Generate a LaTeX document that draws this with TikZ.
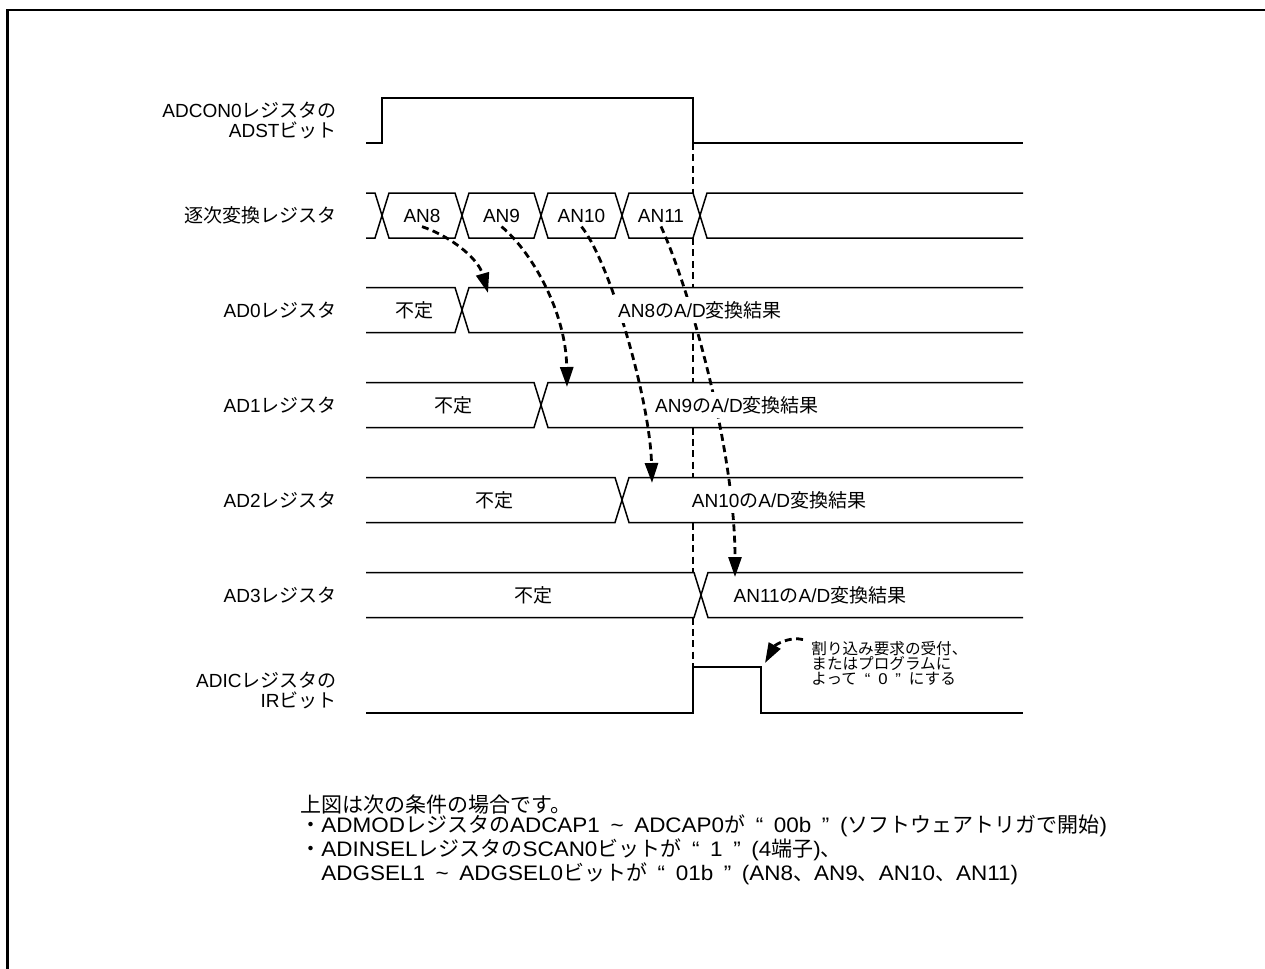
\documentclass[tikz,border=0pt]{standalone}
\usepackage{fontspec}
\setmainfont{Liberation Sans}
\newfontfamily\jpfont{Noto Sans CJK JP}
\newfontfamily\condfont{Liberation Sans}[FakeStretch=1.07, WordSpace=1.7]
\newcommand{\jp}[1]{{\jpfont #1}}
\usetikzlibrary{arrows.meta}

% one data cell of a bus row: left edge, right edge, middle line
\newcommand{\buscell}[3]{\draw[wave] (#1,#3) -- (#1+7,#3-22.5) -- (#2-7,#3-22.5) -- (#2,#3) -- (#2-7,#3+22.5) -- (#1+7,#3+22.5) -- cycle;}
\newcommand{\busopenl}[2]{\draw[wave] (366,#2-22.5) -- (#1-7,#2-22.5) -- (#1,#2) -- (#1-7,#2+22.5) -- (366,#2+22.5);}
\newcommand{\busopenr}[2]{\draw[wave] (1023,#2-22.5) -- (#1+7,#2-22.5) -- (#1,#2) -- (#1+7,#2+22.5) -- (1023,#2+22.5);}

\tikzset{
    wave/.style={line width=0.75pt, line join=miter},
    frame/.style={line width=1.4pt},
    guide/.style={line width=1.4pt, dash pattern=on 3.5pt off 2.2pt},
    flow/.style={guide, -{Triangle[length=10pt,width=6.5pt]}},
    signame/.style={anchor=east, align=right, inner sep=0pt,
        font=\fontsize{9.5}{10}\selectfont},
    busval/.style={inner sep=2pt, font=\fontsize{9.5}{10}\selectfont},
    regval/.style={busval, fill=white},
    remark/.style={anchor=west, align=left, inner sep=0pt,
        font=\condfont\fontsize{7.8}{7.5}\selectfont},
    conditions/.style={anchor=west, align=left, inner sep=0pt,
        font=\condfont\fontsize{10.5}{10}\selectfont}
}

\begin{document}
\begin{tikzpicture}[x=0.5pt, y=-0.5pt]
    \useasboundingbox (0,0) rectangle (1265,969);
    \draw[frame] (7.5,969) -- (7.5,10) -- (1265,10);

    % signal names
    \node[signame] (adst-name) at (337,120) {ADCON0\jp{レジスタの}\\ADST\jp{ビット}};
    \node[signame] (sar-name) at (337,215.5) {\jp{逐次変換レジスタ}};
    \node[signame] (ad0-name) at (337,310) {AD0\jp{レジスタ}};
    \node[signame] (ad1-name) at (337,405) {AD1\jp{レジスタ}};
    \node[signame] (ad2-name) at (337,500) {AD2\jp{レジスタ}};
    \node[signame] (ad3-name) at (337,595) {AD3\jp{レジスタ}};
    \node[signame] (ir-name) at (337,690) {ADIC\jp{レジスタの}\\IR\jp{ビット}};

    % ADST bit and IR bit
    \draw[wave] (366,143) -- (382,143) -- (382,98) -- (693,98) -- (693,143) -- (1023,143);
    \draw[wave] (366,713) -- (693,713) -- (693,667) -- (761,667) -- (761,713) -- (1023,713);

    % guide from the end of conversion
    \foreach \a/\b in {143/193, 238/287.5, 332.5/382.5, 427.5/477.5, 522.5/572.5, 617.5/667}
        \draw[guide] (693,\a) -- (693,\b);

    % successive approximation register
    \busopenl{382}{215.5}
    \buscell{382}{462}{215.5}
    \buscell{462}{541}{215.5}
    \buscell{541}{622}{215.5}
    \buscell{622}{700}{215.5}
    \busopenr{700}{215.5}
    \node[busval] (an8) at (422,215.5) {AN8};
    \node[busval] (an9) at (501.5,215.5) {AN9};
    \node[busval] (an10) at (581.5,215.5) {AN10};
    \node[busval] (an11) at (661,215.5) {AN11};

    % AD0 - AD3 registers
    \busopenl{462}{310}
    \busopenr{462}{310}
    \busopenl{541}{405}
    \busopenr{541}{405}
    \busopenl{622}{500}
    \busopenr{622}{500}
    \busopenl{701}{595}
    \busopenr{701}{595}

    \coordinate (ad0-in) at (488,293);
    \coordinate (ad1-in) at (567,387);
    \coordinate (ad2-in) at (652,483);
    \coordinate (ad3-in) at (735,577);
    \draw[flow] (an8.south) .. controls (450,236) and (478,258) .. (ad0-in);
    \draw[flow] (an9.south) .. controls (530,250) and (566,310) .. (ad1-in);
    \draw[flow] (an10.south) .. controls (610,262) and (650,400) .. (ad2-in);
    \draw[flow] (an11.south) .. controls (690,290) and (735,450) .. (ad3-in);

    \node[regval] (ad0-old) at (414,310) {\jp{不定}};
    \node[regval] (ad0-res) at (700,310) {AN8\jp{の}A/D\jp{変換結果}};
    \node[regval] (ad1-old) at (453.5,405) {\jp{不定}};
    \node[regval] (ad1-res) at (737,405) {AN9\jp{の}A/D\jp{変換結果}};
    \node[regval] (ad2-old) at (494,500) {\jp{不定}};
    \node[regval] (ad2-res) at (779,500) {AN10\jp{の}A/D\jp{変換結果}};
    \node[regval] (ad3-old) at (533.5,595) {\jp{不定}};
    \node[regval] (ad3-res) at (820,595) {AN11\jp{の}A/D\jp{変換結果}};

    % clearing the IR bit
    \node[remark] (ir-note) at (811,663)
        {\jp{割り込み要求の受付、}\\\jp{またはプログラムに}\\\jp{よって} “ 0 ” \jp{にする}};
    \coordinate (ir-clear) at (765,663);
    \draw[flow] ([xshift=-4pt,yshift=0.5pt]ir-note.north west) .. controls (790,636) and (775,645) .. (ir-clear);

    % conditions
    \node[conditions] (cond) at (300,839.5)
        {\jp{上図は次の条件の場合です。}\\
         \jp{・}ADMOD\jp{レジスタの}ADCAP1 \textasciitilde\ ADCAP0\jp{が} “ 00b ” (\jp{ソフトウェアトリガで開始})\\
         \jp{・}ADINSEL\jp{レジスタの}SCAN0\jp{ビットが} “ 1 ” (4\jp{端子})\jp{、}\\
         \hphantom{\jp{・}}ADGSEL1 \textasciitilde\ ADGSEL0\jp{ビットが} “ 01b ” (AN8\jp{、}AN9\jp{、}AN10\jp{、}AN11)};
\end{tikzpicture}
\end{document}
